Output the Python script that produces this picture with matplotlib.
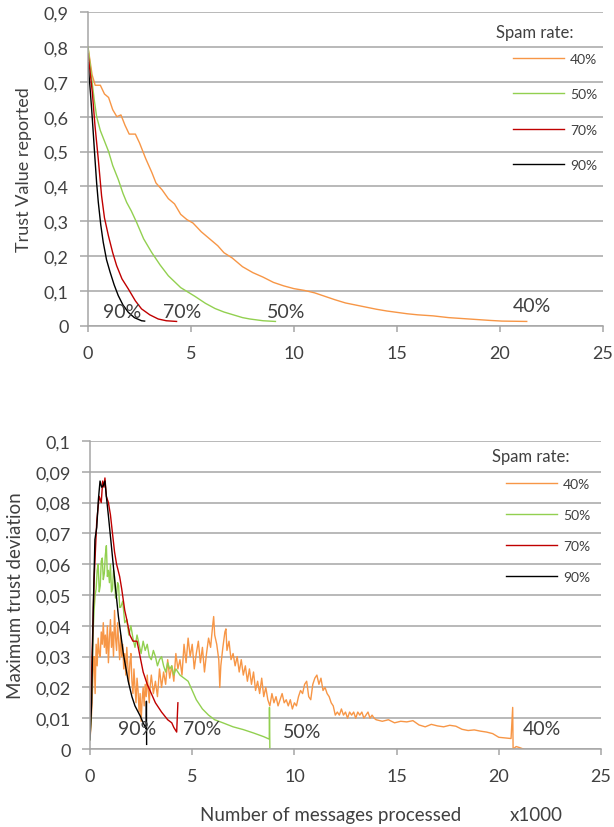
import matplotlib
matplotlib.use("Agg")
import matplotlib.pyplot as plt
from matplotlib.ticker import FuncFormatter, MultipleLocator

plt.rcParams["font.family"] = ["Lato", "DejaVu Sans"]

# --- colours ---
C40 = "#F79646"
C50 = "#92D050"
C70 = "#C00000"
C90 = "#000000"
GRID = "#a6a6a6"
TEXT = "#404040"

SERIES_LABELS = ["40%", "50%", "70%", "90%"]

# --- top chart: trust value reported (x in thousands of messages) ---
top_x40 = [0, 0.2, 0.35, 0.6, 0.8, 1.0, 1.2, 1.4, 1.6, 1.8, 2.0, 2.3, 2.5, 2.8, 3.1,
           3.3, 3.6, 3.9, 4.2, 4.5, 4.8, 5.1, 5.5, 5.9, 6.3, 6.6, 7.0, 7.5, 8.0, 8.5,
           9.0, 9.5, 10.0, 10.5, 11.0, 11.5, 12.0, 12.5, 13.0, 13.5, 14.0, 14.5, 15.0,
           15.5, 16.0, 16.75, 17.5, 18.0, 19.0, 19.5, 20.1, 21.3]
top_y40 = [0.8, 0.72, 0.69, 0.69, 0.665, 0.655, 0.62, 0.6, 0.605, 0.575, 0.55, 0.55,
           0.525, 0.48, 0.44, 0.41, 0.39, 0.365, 0.35, 0.32, 0.305, 0.295, 0.27, 0.25,
           0.23, 0.21, 0.195, 0.17, 0.153, 0.14, 0.125, 0.115, 0.107, 0.102, 0.095,
           0.085, 0.075, 0.066, 0.06, 0.054, 0.048, 0.043, 0.039, 0.035, 0.032, 0.029,
           0.024, 0.022, 0.018, 0.016, 0.014, 0.013]
top_x50 = [0, 0.1, 0.2, 0.3, 0.42, 0.6, 0.8, 1.0, 1.2, 1.47, 1.7, 1.88, 2.1, 2.36, 2.7,
           3.09, 3.5, 3.9, 4.5, 5.19, 5.7, 6.17, 6.6, 7.05, 7.5, 7.86, 8.5, 9.1]
top_y50 = [0.8, 0.75, 0.7, 0.65, 0.6, 0.56, 0.53, 0.5, 0.46, 0.42, 0.38, 0.354, 0.33,
           0.297, 0.25, 0.211, 0.175, 0.144, 0.11, 0.085, 0.065, 0.05, 0.04, 0.032,
           0.024, 0.02, 0.015, 0.013]
top_x70 = [0, 0.1, 0.21, 0.34, 0.5, 0.66, 0.8, 0.99, 1.2, 1.39, 1.65, 1.96, 2.3, 2.6,
           3.0, 3.41, 3.8, 4.3]
top_y70 = [0.78, 0.73, 0.67, 0.574, 0.478, 0.373, 0.31, 0.259, 0.21, 0.173, 0.135,
           0.106, 0.072, 0.049, 0.032, 0.02, 0.015, 0.013]
top_x90 = [0, 0.09, 0.18, 0.26, 0.34, 0.42, 0.5, 0.62, 0.74, 0.9, 1.07, 1.27, 1.47,
           1.7, 1.96, 2.25, 2.6, 2.75]
top_y90 = [0.755, 0.69, 0.62, 0.55, 0.478, 0.41, 0.355, 0.29, 0.24, 0.19, 0.155,
           0.118, 0.087, 0.06, 0.039, 0.024, 0.015, 0.014]

# --- bottom chart: maximum trust deviation ---
bot_x40 = [0.00, 0.05, 0.10, 0.15, 0.20, 0.25, 0.30, 0.35, 0.40, 0.45, 0.50, 0.55,
           0.60, 0.65, 0.70, 0.75, 0.80, 0.85, 0.90, 0.95, 1.00, 1.05, 1.10, 1.15,
           1.20, 1.25, 1.30, 1.35, 1.40, 1.45, 1.50, 1.55, 1.60, 1.65, 1.70, 1.75,
           1.80, 1.85, 1.90, 1.95, 2.00, 2.05, 2.10, 2.15, 2.20, 2.25, 2.30, 2.35,
           2.40, 2.45, 2.50, 2.55, 2.60, 2.65, 2.70, 2.75, 2.80, 2.85, 2.90, 2.95,
           3.0, 3.1, 3.2, 3.3, 3.4, 3.5, 3.6, 3.7, 3.8, 3.9, 4.0, 4.1, 4.2, 4.3, 4.4,
           4.5, 4.6, 4.7, 4.8, 4.9, 5.0, 5.1, 5.2, 5.3, 5.4, 5.5, 5.6, 5.7, 5.8, 5.9,
           6.0, 6.05, 6.1, 6.2, 6.3, 6.35, 6.4, 6.5, 6.6, 6.65, 6.7, 6.8, 6.9, 7.0,
           7.1, 7.2, 7.3, 7.4, 7.5, 7.6, 7.7, 7.8, 7.9, 8.0, 8.1, 8.2, 8.3, 8.4, 8.5,
           8.6, 8.7, 8.8, 8.9, 9.0, 9.1, 9.2, 9.3, 9.4, 9.5, 9.6, 9.7, 9.8, 9.9, 10.0,
           10.1, 10.2, 10.3, 10.4, 10.5, 10.6, 10.7, 10.8, 10.9, 11.0, 11.1, 11.2,
           11.3, 11.4, 11.5, 11.6, 11.7, 11.8, 11.9, 12.0, 12.1, 12.2, 12.3, 12.4,
           12.5, 12.6, 12.7, 12.8, 12.9, 13.0, 13.1, 13.2, 13.3, 13.4, 13.5, 13.6,
           13.7, 13.8, 13.9, 14.0, 14.3, 14.6, 14.9, 15.2, 15.5, 15.8, 16.1, 16.4,
           16.7, 17.0, 17.3, 17.6, 17.9, 18.2, 18.5, 18.8, 19.1, 19.4, 19.7, 20.0,
           20.3, 20.6, 20.68, 20.7, 20.85, 21.0, 21.2]
bot_y40 = [0.003, 0.008, 0.015, 0.026, 0.030, 0.018, 0.034, 0.027, 0.036, 0.031,
           0.030, 0.038, 0.034, 0.041, 0.033, 0.037, 0.031, 0.040, 0.028, 0.036,
           0.042, 0.033, 0.038, 0.030, 0.045, 0.036, 0.032, 0.041, 0.035, 0.029,
           0.037, 0.030, 0.034, 0.026, 0.031, 0.024, 0.033, 0.027, 0.021, 0.028,
           0.031, 0.022, 0.018, 0.026, 0.020, 0.015, 0.023, 0.019, 0.012, 0.018,
           0.009, 0.016, 0.020, 0.014, 0.021, 0.017, 0.024, 0.019, 0.015, 0.021,
           0.024, 0.018, 0.022, 0.017, 0.026, 0.020, 0.025, 0.021, 0.029, 0.023,
           0.027, 0.022, 0.031, 0.026, 0.029, 0.024, 0.034, 0.028, 0.036, 0.030,
           0.034, 0.026, 0.031, 0.035, 0.028, 0.033, 0.025, 0.031, 0.036, 0.033,
           0.040, 0.043, 0.037, 0.034, 0.029, 0.020, 0.027, 0.033, 0.038, 0.039,
           0.032, 0.035, 0.029, 0.031, 0.027, 0.030, 0.025, 0.029, 0.024, 0.027,
           0.022, 0.026, 0.021, 0.025, 0.019, 0.022, 0.018, 0.023, 0.017, 0.020,
           0.016, 0.014, 0.018, 0.015, 0.017, 0.014, 0.016, 0.018, 0.015, 0.016,
           0.014, 0.016, 0.013, 0.015, 0.014, 0.017, 0.019, 0.018, 0.021, 0.022,
           0.017, 0.016, 0.021, 0.023, 0.024, 0.021, 0.023, 0.019, 0.020, 0.018,
           0.017, 0.015, 0.014, 0.011, 0.012, 0.011, 0.013, 0.011, 0.012, 0.010,
           0.012, 0.011, 0.012, 0.010, 0.012, 0.011, 0.012, 0.010, 0.011, 0.012,
           0.010, 0.011, 0.010, 0.0095, 0.009, 0.0095, 0.0085, 0.009, 0.0088, 0.0092,
           0.0078, 0.0072, 0.008, 0.0075, 0.0072, 0.0077, 0.0074, 0.0064, 0.006,
           0.0062, 0.0058, 0.0055, 0.005, 0.0038, 0.0036, 0.0034, 0.0135, 0.0,
           0.0008, 0.0005, 0.0]
bot_x50 = [0.0, 0.05, 0.1, 0.15, 0.2, 0.25, 0.3, 0.35, 0.4, 0.45, 0.5, 0.55, 0.6,
           0.65, 0.7, 0.75, 0.8, 0.85, 0.9, 0.95, 1.0, 1.05, 1.1, 1.15, 1.2, 1.25,
           1.3, 1.35, 1.4, 1.45, 1.5, 1.6, 1.7, 1.8, 1.9, 2.0, 2.1, 2.2, 2.3, 2.4,
           2.5, 2.6, 2.7, 2.8, 2.9, 3.0, 3.1, 3.2, 3.3, 3.4, 3.5, 3.6, 3.7, 3.8, 3.9,
           4.0, 4.1, 4.2, 4.3, 4.4, 4.6, 4.8, 5.0, 5.2, 5.5, 5.8, 6.1, 6.5, 7.0, 7.5,
           8.0, 8.5, 8.77, 8.78, 8.8]
bot_y50 = [0.003, 0.012, 0.025, 0.038, 0.045, 0.050, 0.052, 0.058, 0.060, 0.051,
           0.053, 0.061, 0.062, 0.055, 0.057, 0.063, 0.066, 0.056, 0.058, 0.054,
           0.060, 0.051, 0.052, 0.058, 0.056, 0.049, 0.050, 0.054, 0.053, 0.046,
           0.046, 0.048, 0.041, 0.042, 0.037, 0.040, 0.036, 0.033, 0.037, 0.034,
           0.031, 0.035, 0.032, 0.034, 0.030, 0.029, 0.032, 0.030, 0.027, 0.029,
           0.030, 0.027, 0.025, 0.028, 0.026, 0.027, 0.024, 0.026, 0.025, 0.024,
           0.023, 0.022, 0.019, 0.016, 0.013, 0.011, 0.0095, 0.0085, 0.0072, 0.0063,
           0.0052, 0.0040, 0.0032, 0.0135, 0.0]
bot_x70 = [0, 0.1, 0.2, 0.33, 0.45, 0.55, 0.62, 0.68, 0.73, 0.8, 0.9, 1.0, 1.1, 1.2,
           1.3, 1.45, 1.55, 1.7, 1.8, 1.95, 2.1, 2.3, 2.45, 2.6, 2.8, 3.0, 3.2, 3.5,
           3.8, 4.0, 4.1, 4.24, 4.3]
bot_y70 = [0.0055, 0.03, 0.055, 0.074, 0.082, 0.080, 0.087, 0.085, 0.088, 0.082, 0.080,
           0.076, 0.070, 0.064, 0.060, 0.056, 0.052, 0.045, 0.042, 0.037, 0.035, 0.035,
           0.030, 0.025, 0.021, 0.018, 0.015, 0.012, 0.0095, 0.0085, 0.007, 0.0055,
           0.015]
bot_x90 = [0.0, 0.08, 0.16, 0.24, 0.33, 0.41, 0.49, 0.57, 0.65, 0.73, 0.8, 0.9, 1.06,
           1.22, 1.39, 1.63, 1.87, 2.05, 2.2, 2.45, 2.6, 2.75, 2.76, 2.77]
bot_y90 = [0.003, 0.015, 0.046, 0.068, 0.072, 0.081, 0.087, 0.085, 0.0855, 0.087,
           0.082, 0.0757, 0.065, 0.054, 0.043, 0.031, 0.022, 0.017, 0.014, 0.0108,
           0.0085, 0.0065, 0.0155, 0.0015]

# end-of-curve labels (x, y) for each panel
top_label_x = [21.55, 9.6, 4.59, 1.65]
top_label_y = [0.06, 0.042, 0.042, 0.042]
bot_label_x = [22.1, 10.4, 5.48, 2.3]
bot_label_y = [0.0065, 0.0056, 0.0065, 0.0065]


def comma_fmt(v, _pos):
    return ("%g" % round(v, 3)).replace(".", ",")


def style_axes(ax, ymax, ystep):
    ax.set_xlim(0, 25)
    ax.set_ylim(0, ymax)
    ax.xaxis.set_major_locator(MultipleLocator(5))
    ax.yaxis.set_major_locator(MultipleLocator(ystep))
    ax.yaxis.set_major_formatter(FuncFormatter(comma_fmt))
    ax.grid(axis="y", color=GRID, linewidth=1.1)
    ax.set_axisbelow(True)
    for side in ("top", "right"):
        ax.spines[side].set_visible(False)
    for side in ("left", "bottom"):
        ax.spines[side].set_color(GRID)
        ax.spines[side].set_linewidth(1.1)
    ax.tick_params(axis="y", length=6, width=1.1, color=GRID, pad=8,
                   labelsize=13, labelcolor=TEXT)
    ax.tick_params(axis="x", length=4.5, width=1.1, color=GRID, pad=9,
                   labelsize=13, labelcolor=TEXT)


def draw_panel(ax, xs, ys, lab_x, lab_y, title_xy, leg_anchor, leg_spacing):
    colors = [C40, C50, C70, C90]
    for x, y, c, lab in zip(xs, ys, colors, SERIES_LABELS):
        ax.plot(x, y, color=c, linewidth=1.0, label=lab)
    for lx, ly, lab in zip(lab_x, lab_y, SERIES_LABELS):
        ax.text(lx, ly, lab, ha="center", va="center", fontsize=14, color=TEXT)
    ax.text(title_xy[0], title_xy[1], "Spam rate:", transform=ax.transAxes,
            ha="left", va="center", fontsize=12, color=TEXT)
    ax.legend(loc="upper left", bbox_to_anchor=leg_anchor, frameon=False,
              fontsize=10, handlelength=3.7, handletextpad=0.4,
              labelspacing=leg_spacing, borderpad=0, borderaxespad=0,
              labelcolor=TEXT)


fig = plt.figure(figsize=(6.14, 8.28), dpi=100)
ax1 = fig.add_axes([0.1433, 0.6051, 0.8387, 0.3792])
ax2 = fig.add_axes([0.1466, 0.0942, 0.8322, 0.372])

style_axes(ax1, 0.9, 0.1)
draw_panel(ax1, [top_x40, top_x50, top_x70, top_x90],
           [top_y40, top_y50, top_y70, top_y90],
           top_label_x, top_label_y, (0.792, 0.936), (0.825, 0.869), 1.67)
ax1.set_ylabel("Trust Value reported", fontsize=13, color=TEXT, labelpad=8)

style_axes(ax2, 0.1, 0.01)
draw_panel(ax2, [bot_x40, bot_x50, bot_x70, bot_x90],
           [bot_y40, bot_y50, bot_y70, bot_y90],
           bot_label_x, bot_label_y, (0.786, 0.952), (0.814, 0.8795), 1.365)
ax2.set_ylabel("Maximum trust deviation", fontsize=13.5, color=TEXT, labelpad=8)

fig.text(0.3257, 0.0157, "Number of messages processed", fontsize=13.5,
         color=TEXT, ha="left", va="center")
fig.text(0.8306, 0.0157, "x1000", fontsize=13.5, color=TEXT, ha="left", va="center")

fig.savefig("out.png", dpi=100, facecolor="white")
